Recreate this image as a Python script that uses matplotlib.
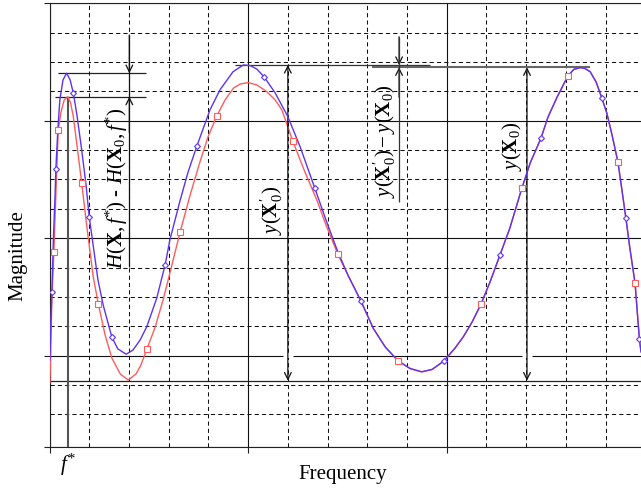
import matplotlib
matplotlib.use("Agg")
import matplotlib.pyplot as plt

plt.rcParams["font.family"] = ["Liberation Serif", "DejaVu Serif"]
plt.rcParams["mathtext.fontset"] = "custom"
plt.rcParams["mathtext.rm"] = "Liberation Serif"
plt.rcParams["mathtext.it"] = "Liberation Serif:italic"
plt.rcParams["mathtext.bf"] = "Liberation Serif:bold"

# ---------- data (frequency / magnitude in grid units) ----------
blue_head_x = [0.01, 0.03, 0.06, 0.10, 0.14, 0.16, 0.21, 0.26, 0.34, 0.43, 0.52, 0.60,
               0.69, 0.81, 0.92, 1.00, 1.15, 1.22, 1.35, 1.57, 1.72, 1.93, 2.10, 2.28,
               2.45, 2.70, 2.91, 3.03, 3.29, 3.49, 3.71, 4.04, 4.29, 4.62, 4.88, 5.05,
               5.22, 5.41, 5.68, 6.00, 6.31, 6.68, 6.96, 7.24]
blue_head_y = [2.85, 3.87, 5.18, 7.05, 8.47, 9.35, 10.69, 11.71, 12.39, 12.62, 12.39, 11.94,
               11.20, 10.01, 8.81, 7.73, 6.26, 5.58, 4.73, 3.63, 3.23, 3.05, 3.19, 3.53,
               3.99, 4.96, 6.09, 6.94, 8.30, 9.26, 10.14, 11.37, 12.05, 12.67, 12.90, 12.88,
               12.76, 12.48, 11.95, 11.14, 10.11, 8.70, 7.62, 6.60]

red_head_x = [0.01, 0.03, 0.06, 0.11, 0.16, 0.22, 0.29, 0.37, 0.46, 0.53, 0.60, 0.69,
              0.81, 0.94, 1.10, 1.23, 1.40, 1.57, 1.78, 1.98, 2.18, 2.30, 2.45, 2.66,
              2.87, 3.05, 3.29, 3.54, 3.79, 3.99, 4.21, 4.42, 4.63, 4.80, 5.00, 5.22,
              5.47, 5.68, 5.85, 6.12, 6.41, 6.73, 6.96, 7.26]
red_head_y = [2.07, 3.19, 4.90, 6.54, 8.47, 10.69, 11.30, 11.71, 11.82, 11.61, 11.14, 10.18,
              8.89, 7.39, 5.69, 4.76, 3.70, 2.92, 2.38, 2.17, 2.38, 2.68, 3.22, 3.97,
              4.95, 5.92, 7.22, 8.47, 9.61, 10.45, 11.16, 11.71, 12.11, 12.25, 12.30, 12.22,
              11.99, 11.71, 11.37, 10.32, 9.32, 8.30, 7.45, 6.45]

# both responses coincide above ~7.5
shared_x = [7.51, 7.84, 8.15, 8.45, 8.77, 9.08, 9.37, 9.63, 9.93, 10.21, 10.42, 10.64,
            10.86, 11.09, 11.34, 11.59, 11.89, 12.10, 12.37, 12.55, 12.78, 13.05, 13.20,
            13.36, 13.48, 13.61, 13.76, 13.90, 14.03, 14.16, 14.31, 14.41, 14.51, 14.61,
            14.74, 14.85, 14.89]
shared_y = [5.75, 4.86, 3.93, 3.30, 2.83, 2.56, 2.45, 2.53, 2.82, 3.26, 3.65, 4.15,
            4.75, 5.51, 6.43, 7.35, 8.70, 9.56, 10.40, 11.13, 11.81, 12.53, 12.75,
            12.81, 12.78, 12.67, 12.32, 11.79, 11.26, 10.52, 9.59, 8.64, 7.68, 6.66,
            5.47, 3.56, 3.13]

blue_mark_x = [0.06, 0.16, 0.60, 1.00, 1.57, 2.91, 3.71, 5.41, 6.68, 7.84, 9.93, 11.34,
               12.37, 13.90, 14.51, 14.85]
blue_mark_y = [5.18, 9.35, 11.94, 7.73, 3.63, 6.09, 10.14, 12.48, 8.70, 4.86, 2.82, 6.43,
               10.40, 11.79, 7.68, 3.56]
red_mark_x = [0.11, 0.22, 0.81, 1.23, 2.45, 3.29, 4.21, 6.12, 7.26, 8.77, 10.86, 11.89,
              13.05, 14.31, 14.74]
red_mark_y = [6.54, 10.69, 8.89, 4.76, 3.22, 7.22, 11.16, 10.32, 6.45, 2.83, 4.75, 8.70,
              12.53, 9.59, 5.47]

# reference levels and marker positions
f_star = 0.46
peak1_blue = 12.62
peak1_red = 11.82
peak2_blue = 12.90
peak3 = 12.82
red_min = 2.15
dim1_x = 2.01
dim2_x = 6.00
dim3_x = 8.80
dim4_x = 12.02

x_max = 14.89
y_min, y_max = -0.1, 15

blue_x = blue_head_x + shared_x
blue_y = blue_head_y + shared_y
red_x = red_head_x + shared_x
red_y = red_head_y + shared_y

BLUE = "#5e33f0"
RED = "#ff5c5c"

# ---------- figure ----------
fig = plt.figure(figsize=(6.41, 4.88), dpi=100)
ax = fig.add_axes([49.5 / 641, 41.3 / 488, 591.5 / 641, 443.4 / 488])
ax.set_xlim(0, x_max)
ax.set_ylim(y_min, y_max)

ax.set_xticks([0, 5, 10])
ax.set_xticks(range(1, 15), minor=True)
ax.set_yticks([y_min, 3, 7, 11, 15])
ax.set_yticks(range(1, 15), minor=True)
ax.tick_params(which="major", direction="out", length=4.3, width=0.8, color="#222",
               labelbottom=False, labelleft=False)
ax.tick_params(which="minor", length=0)
ax.set_axisbelow(True)
ax.grid(which="major", color="#111", lw=0.8, ls="-")
ax.grid(which="minor", color="#111", lw=0.75, ls=(0, (4, 3)))
ax.spines["right"].set_visible(False)
for s in ("left", "bottom", "top"):
    ax.spines[s].set_linewidth(0.8)
    ax.spines[s].set_color("#222")

# gaps in the major line where the long arrows pass
for gx in (dim2_x, dim4_x):
    ax.hlines(3, gx - 0.12, gx + 0.12, color="white", lw=2, zorder=1)

# reference lines
ax.axhline(red_min, color="#222", lw=0.9, zorder=1.5)
ax.vlines(f_star, y_min, peak1_red, color="#555", lw=1.5, zorder=1.5)
ax.hlines(peak1_blue, 0.21, 2.43, color="#222", lw=0.9, zorder=1.5)
ax.hlines(peak1_red, 0.14, 2.43, color="#222", lw=0.9, zorder=1.5)
ax.hlines(peak2_blue, 4.67, 9.58, color="#333", lw=0.9, zorder=1.5)
ax.hlines(peak3, 8.12, 13.61, color="#666", lw=1.5, zorder=1.5)

# curves
ax.plot(red_x, red_y, color=RED, lw=1.0, zorder=3)
ax.plot(blue_x, blue_y, color=BLUE, lw=1.0, zorder=4)
ax.plot(red_mark_x, red_mark_y, ls="none", marker="s", ms=4.5, mfc="white",
        mec=RED, mew=0.8, zorder=5)
ax.plot(blue_mark_x, blue_mark_y, ls="none", marker="D", ms=3, mfc="white",
        mec=BLUE, mew=0.8, zorder=5)

# dimension arrows
arrow = dict(arrowstyle="->", lw=0.9, color="#111", shrinkA=0, shrinkB=0, mutation_scale=12)
darrow = dict(arrow, arrowstyle="<->")

ax.vlines(dim1_x, 6.02, 13.92, color="#111", lw=0.9, zorder=4)
ax.annotate("", xy=(dim1_x, peak1_blue), xytext=(dim1_x, 13.92), arrowprops=arrow)
ax.annotate("", xy=(dim1_x, peak1_red), xytext=(dim1_x, 10.6), arrowprops=arrow)

ax.annotate("", xy=(dim2_x, peak2_blue), xytext=(dim2_x, red_min), arrowprops=darrow)

ax.vlines(dim3_x, 8.23, 13.86, color="#333", lw=0.9, zorder=4)
ax.annotate("", xy=(dim3_x, peak2_blue), xytext=(dim3_x, 13.86), arrowprops=arrow)
ax.annotate("", xy=(dim3_x, peak3), xytext=(dim3_x, 11.8), arrowprops=arrow)

ax.annotate("", xy=(dim4_x, peak3), xytext=(dim4_x, red_min), arrowprops=darrow)

# labels
lbl = dict(rotation=90, ha="center", va="center", fontsize=15, zorder=6)
ax.text(1.70, 8.71, r"$H(\mathbf{X},f^{*})$ - $H(\mathbf{X}_{0},f^{*})$", **lbl)
ax.text(5.60, 7.96, r"$y(\mathbf{X}^{\prime}_{0})$", **lbl)
ax.text(8.45, 10.31, r"$y(\mathbf{X}^{\prime}_{0})-y(\mathbf{X}_{0})$", **lbl)
ax.text(11.64, 10.11, r"$y(\mathbf{X}_{0})$", **lbl)

ax.text(f_star, -0.72, r"$f^{*}$", ha="center", va="center", fontsize=15,
        clip_on=False)

ax.set_xlabel("Frequency", fontsize=15)
ax.xaxis.set_label_coords(0.496, -0.062)
ax.xaxis.label.set_va("center")
ax.set_ylabel("Magnitude", fontsize=15)
ax.yaxis.set_label_coords(-0.053, 0.432)
ax.yaxis.label.set_va("center")

fig.savefig("out.png", dpi=100)
